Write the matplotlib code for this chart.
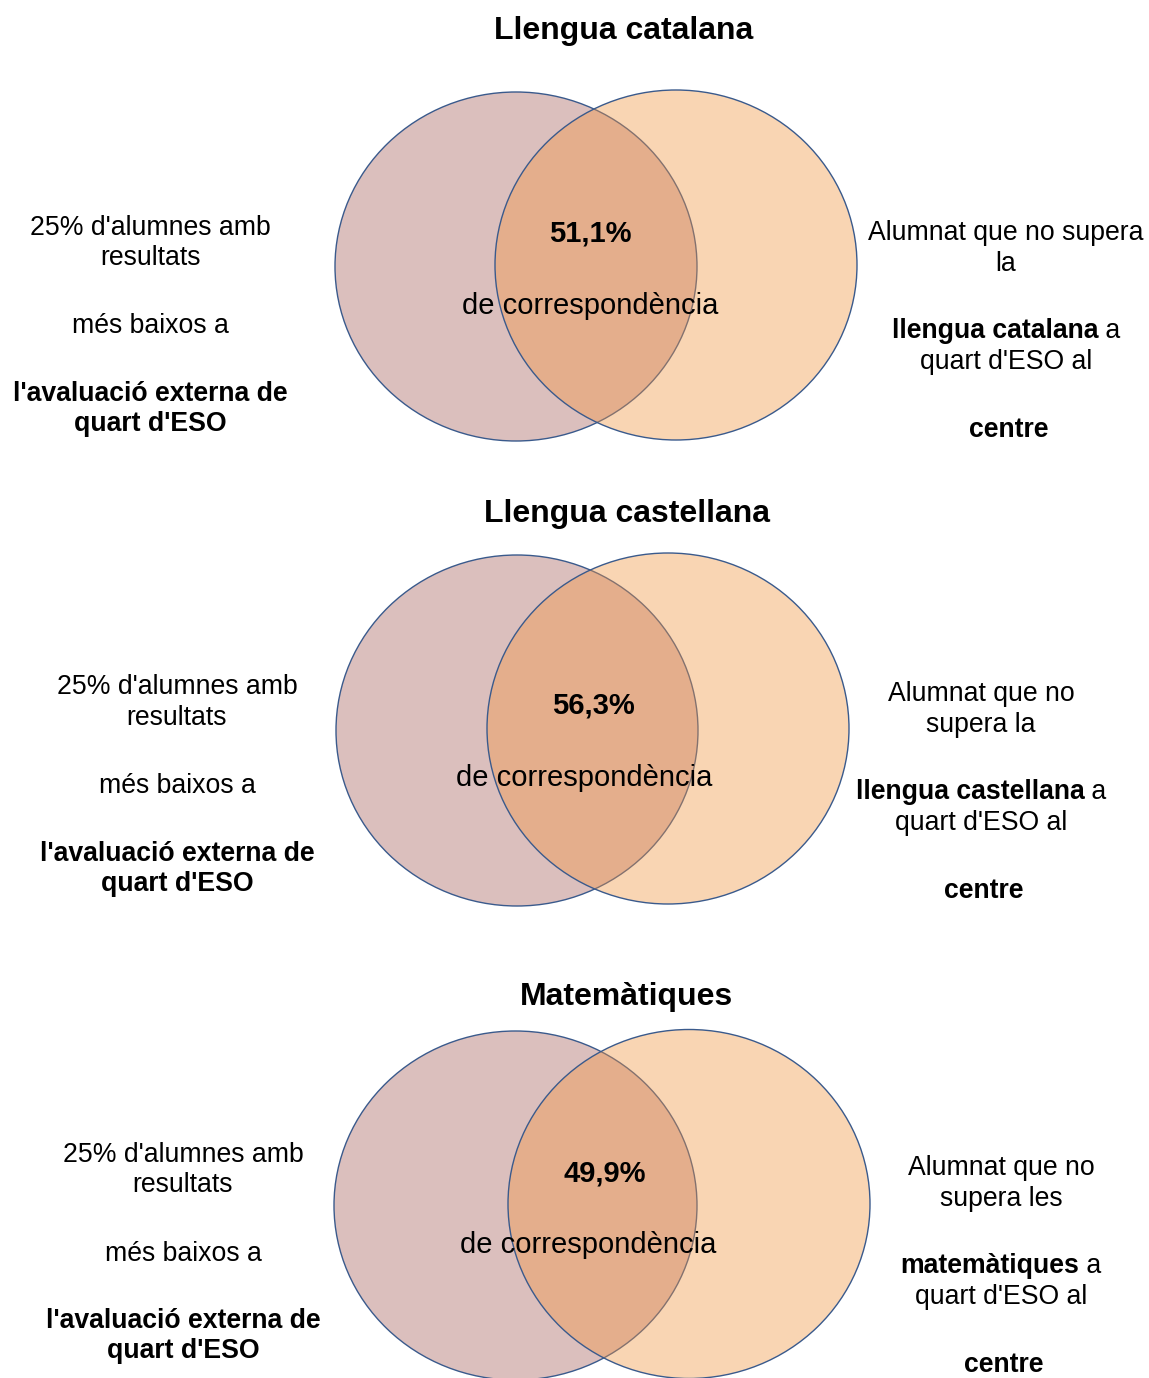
import matplotlib
matplotlib.use("Agg")
import matplotlib.pyplot as plt
from matplotlib.patches import Ellipse

plt.rcParams['font.family'] = ['Liberation Sans', 'DejaVu Sans']

# ---- data ----
titles = ["Llengua catalana", "Llengua castellana", "Matemàtiques"]
percentages = ["51,1%", "56,3%", "49,9%"]
center_label = "de correspondència"
left_lines = ["25% d'alumnes amb", "resultats", "més baixos a",
              "l'avaluació externa de", "quart d'ESO"]
left_bold = [False, False, False, True, True]
right_first = [["Alumnat que no supera", "la"],
               ["Alumnat que no", "supera la"],
               ["Alumnat que no", "supera les"]]
right_bold_subject = ["llengua catalana", "llengua castellana", "matemàtiques"]
right_after = ["quart d'ESO al", "centre"]

# ---- layout (pixels) ----
W, H = 1149, 1378
fig = plt.figure(figsize=(W / 100, H / 100), dpi=100)
ax = fig.add_axes([0, 0, 1, 1])
ax.set_xlim(0, W)
ax.set_ylim(H, 0)
ax.axis('off')

left_fill = '#DBBFBD'
right_fill = '#F29643'
edge = '#3A5A8C'
fs = 21
fs_side = 19.2
fs_title = 23
dy = 3

circles = [
    ((516, 266.5), (362, 349), (676, 265), (362, 350)),
    ((517, 730.5), (362, 351), (668, 728.5), (362, 351)),
    ((515.5, 1205.5), (363, 349), (689, 1204), (362, 349)),
]
title_pos = [(624, 28), (627, 511), (627, 994)]
pct_pos = [(590, 231), (593, 703), (605, 1170)]
corr_pos = [(590, 303), (584, 775), (588, 1242)]
left_pos = [(150, [225, 255, 323, 391, 421]),
            (177, [684, 715, 783, 851, 881]),
            (183, [1152, 1182, 1251, 1318, 1348])]
right_pos = [(1006, [230, 261, 328, 359, 427]),
             (981, [691, 722, 789, 820, 888]),
             (1001, [1165, 1196, 1263, 1294, 1362])]

fig.canvas.draw()
renderer = fig.canvas.get_renderer()


def mixed_line(cx, y, bold_part, reg_part):
    t1 = ax.text(0, y, bold_part, fontsize=fs_side, fontweight='bold', ha='left', va='center')
    t2 = ax.text(0, y, reg_part, fontsize=fs_side, ha='left', va='center')
    w1 = t1.get_window_extent(renderer).width
    w2 = t2.get_window_extent(renderer).width
    x0 = cx - (w1 + w2) / 2
    t1.set_x(x0)
    t2.set_x(x0 + w1)


for i in range(3):
    (lc, lwh, rc, rwh) = circles[i]
    ax.add_patch(Ellipse(lc, lwh[0], lwh[1], facecolor=left_fill, edgecolor=edge, lw=1.0, zorder=1))
    ax.add_patch(Ellipse(rc, rwh[0], rwh[1], facecolor=right_fill, alpha=0.4, edgecolor='none', zorder=2))
    ax.add_patch(Ellipse(rc, rwh[0], rwh[1], facecolor='none', edgecolor=edge, lw=1.0, zorder=3))

    tx, ty = title_pos[i]
    ax.text(tx, ty + dy, titles[i], fontsize=fs_title, fontweight='bold', ha='center', va='center')
    px, py = pct_pos[i]
    ax.text(px, py + dy, percentages[i], fontsize=fs, fontweight='bold', ha='center', va='center', zorder=5)
    cx_, cy_ = corr_pos[i]
    ax.text(cx_, cy_ + dy, center_label, fontsize=fs, ha='center', va='center', zorder=5)

    cx, ys = left_pos[i]
    for line, b, y in zip(left_lines, left_bold, ys):
        ax.text(cx, y + dy, line, fontsize=fs_side, fontweight='bold' if b else 'normal',
                ha='center', va='center')

    cx, ys = right_pos[i]
    ax.text(cx, ys[0] + dy, right_first[i][0], fontsize=fs_side, ha='center', va='center')
    ax.text(cx, ys[1] + dy, right_first[i][1], fontsize=fs_side, ha='center', va='center')
    mixed_line(cx, ys[2] + dy, right_bold_subject[i], " a")
    ax.text(cx, ys[3] + dy, right_after[0], fontsize=fs_side, ha='center', va='center')
    ax.text(cx + 3, ys[4] + dy, right_after[1], fontsize=fs_side, fontweight='bold', ha='center', va='center')

fig.savefig('out.png', dpi=100)
